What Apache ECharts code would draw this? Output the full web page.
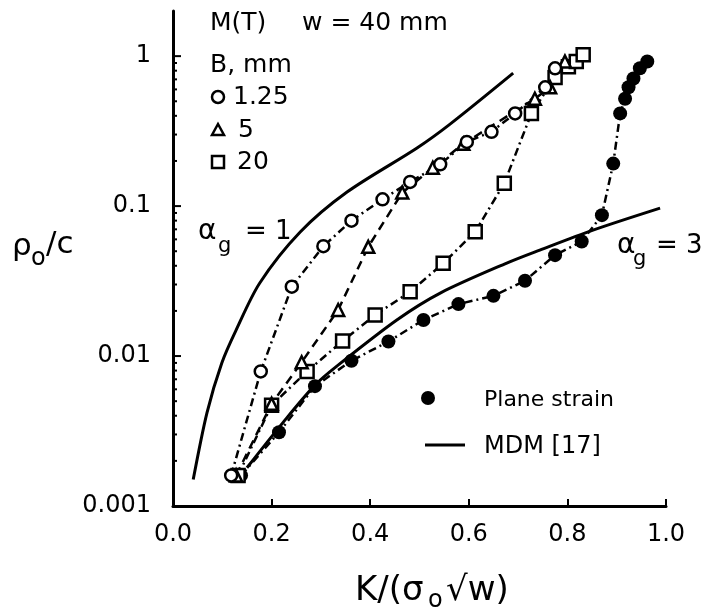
<!DOCTYPE html>
<html>
<head>
<meta charset="utf-8">
<script src="https://cdn.jsdelivr.net/npm/echarts@6/dist/echarts.min.js"></script>
<style>
  html, body { margin: 0; padding: 0; background: #fff; }
  #chart { width: 710px; height: 610px; }
</style>
</head>
<body>
<div id="chart"></div>
<script>
// tick values
const xTicks = [0, 0.2, 0.4, 0.6, 0.8, 1.0]
const yDecades = [0.001, 0.01, 0.1, 1]

// M(T) specimens, w = 40 mm  [K/(sigma0 sqrt w), rho0/c]
const b125 = [[0.118, 0.0016], [0.178, 0.0079], [0.241, 0.029], [0.305, 0.054], [0.362, 0.080],
  [0.425, 0.111], [0.481, 0.145], [0.542, 0.19], [0.596, 0.268], [0.646, 0.313], [0.694, 0.415],
  [0.755, 0.62], [0.775, 0.83]]
const b5 = [[0.128, 0.0016], [0.200, 0.0048], [0.261, 0.0091], [0.335, 0.0203], [0.396, 0.0535],
  [0.465, 0.123], [0.527, 0.18], [0.589, 0.26], [0.734, 0.52], [0.765, 0.62], [0.795, 0.92]]
const b20 = [[0.132, 0.0016], [0.200, 0.0047], [0.272, 0.0079], [0.344, 0.0126], [0.410, 0.0188],
  [0.481, 0.0268], [0.548, 0.0415], [0.613, 0.0675], [0.672, 0.142], [0.727, 0.415], [0.775, 0.72],
  [0.802, 0.85], [0.818, 0.92], [0.832, 1.02]]
const planeStrain = [[0.138, 0.0016], [0.215, 0.0031], [0.288, 0.0063], [0.362, 0.0093], [0.437, 0.0125],
  [0.508, 0.0174], [0.579, 0.0222], [0.650, 0.0252], [0.714, 0.0318], [0.775, 0.0471], [0.829, 0.058],
  [0.870, 0.087], [0.893, 0.192], [0.907, 0.415], [0.917, 0.52], [0.924, 0.62], [0.934, 0.71],
  [0.947, 0.83], [0.962, 0.92]]

// MDM [17] curves, alpha_g = 1 and alpha_g = 3
const mdmG1 = [[0.041, 0.0015], [0.069, 0.0042], [0.099, 0.009], [0.128, 0.0149], [0.176, 0.0307],
  [0.258, 0.0671], [0.353, 0.124], [0.495, 0.244], [0.562, 0.352], [0.69, 0.77]]
const mdmG3 = [[0.150, 0.0018], [0.223, 0.0036], [0.288, 0.0064], [0.333, 0.0086], [0.454, 0.0174],
  [0.542, 0.0263], [0.677, 0.0417], [0.744, 0.0509], [0.852, 0.0692], [0.988, 0.097]]

const FONT = '"DejaVu Sans", sans-serif'
const dashDot = [8, 4, 2, 4]

// y log ticks: majors at decades, minors 2..9 inside each decade
const yTickData = []
yDecades.forEach((d, i) => {
  yTickData.push([0, d, 8])
  if (i < yDecades.length - 1) {
    for (let k = 2; k <= 9; k++) yTickData.push([0, d * k, 4])
  }
})

function txt(x, y, text, size) {
  return {
    type: 'text', x: x, y: y, silent: true,
    style: { text: text, font: size + 'px ' + FONT, fill: '#000', textAlign: 'left', textVerticalAlign: 'middle', align: 'left', verticalAlign: 'middle' }
  }
}

const openStyle = { color: '#fff', borderColor: '#000', borderWidth: 2.5 }

const chart = echarts.init(document.getElementById('chart'))
chart.setOption({
  animation: false,
  backgroundColor: '#fff',
  grid: { left: 173, right: 44, top: 11, bottom: 104, containLabel: false, outerBoundsMode: 'none' },
  xAxis: {
    type: 'value',
    min: xTicks[0],
    max: xTicks[xTicks.length - 1],
    interval: 0.2,
    axisLine: { lineStyle: { color: '#000', width: 3 } },
    axisTick: { inside: true, length: 7, lineStyle: { color: '#000', width: 2 } },
    axisLabel: { color: '#000', fontSize: 24, fontFamily: FONT, margin: 17, formatter: v => v.toFixed(1) },
    splitLine: { show: false }
  },
  yAxis: {
    type: 'log',
    logBase: 10,
    min: 0.001,
    max: 2,
    axisLine: { lineStyle: { color: '#000', width: 3 } },
    axisTick: { show: false },
    axisLabel: {
      color: '#000', fontSize: 24, fontFamily: FONT, margin: 22,
      formatter: v => {
        const e = Math.log10(v)
        if (Math.abs(e - Math.round(e)) > 1e-6) return ''
        const n = Math.round(e)
        return n >= 0 ? String(Math.pow(10, n)) : Math.pow(10, n).toFixed(-n)
      }
    },
    splitLine: { show: false }
  },
  series: [
    {
      type: 'custom', name: 'yticks', silent: true, z: 5,
      data: yTickData,
      renderItem(params, api) {
        const p = api.coord([0, api.value(1)])
        return {
          type: 'line',
          shape: { x1: p[0], y1: p[1], x2: p[0] + api.value(2), y2: p[1] },
          style: { stroke: '#000', lineWidth: 2 }
        }
      }
    },
    {
      name: 'MDM [17]', type: 'line', data: mdmG1, smooth: 0.3, showSymbol: false, z: 2,
      lineStyle: { color: '#000', width: 3 }
    },
    {
      name: 'MDM [17] g3', type: 'line', data: mdmG3, smooth: 0.3, showSymbol: false, z: 2,
      lineStyle: { color: '#000', width: 3 }
    },
    {
      name: 'Plane strain', type: 'line', data: planeStrain, symbol: 'circle', symbolSize: 14, z: 3,
      lineStyle: { color: '#000', width: 2.5, type: dashDot },
      itemStyle: { color: '#000' }
    },
    {
      name: '20', type: 'line', data: b20, symbol: 'rect', symbolSize: 13, z: 4,
      lineStyle: { color: '#000', width: 2.5, type: dashDot },
      itemStyle: openStyle
    },
    {
      name: '5', type: 'line', data: b5, symbol: 'triangle', symbolSize: 12, z: 4,
      lineStyle: { color: '#000', width: 2.5, type: [9, 6] },
      itemStyle: openStyle
    },
    {
      name: '1.25', type: 'line', data: b125, symbol: 'circle', symbolSize: 12, z: 4,
      lineStyle: { color: '#000', width: 2.5, type: dashDot },
      itemStyle: openStyle
    }
  ],
  graphic: [
    // header + legend
    txt(210, 23, 'M(T)', 25),
    txt(302, 23, 'w = 40 mm', 25),
    txt(210, 65, 'B, mm', 25),
    { type: 'circle', silent: true, shape: { cx: 218, cy: 97, r: 6 }, style: { fill: '#fff', stroke: '#000', lineWidth: 2.5 } },
    txt(233, 97, '1.25', 25),
    { type: 'polygon', silent: true, shape: { points: [[218, 124], [224, 135], [212, 135]] }, style: { fill: '#fff', stroke: '#000', lineWidth: 2.5 } },
    txt(238, 130, '5', 25),
    { type: 'rect', silent: true, shape: { x: 212, y: 156, width: 12, height: 12 }, style: { fill: '#fff', stroke: '#000', lineWidth: 2.5 } },
    txt(237, 162, '20', 25),
    { type: 'circle', silent: true, shape: { cx: 428, cy: 398, r: 7 }, style: { fill: '#000' } },
    txt(484, 400, 'Plane strain', 22),
    { type: 'line', silent: true, shape: { x1: 425, y1: 445, x2: 465, y2: 445 }, style: { stroke: '#000', lineWidth: 3 } },
    txt(484, 447, 'MDM [17]', 24),
    // curve labels
    txt(198, 232, 'α', 28),
    txt(218, 247, 'g', 21),
    txt(245, 232, '= 1', 26),
    txt(617, 246, 'α', 28),
    txt(633, 260, 'g', 21),
    txt(656, 246, '= 3', 26),
    // axis titles
    txt(12, 247, 'ρ', 31),
    txt(31, 259, 'o', 24),
    txt(46, 245, '/c', 31),
    txt(355, 591, 'K/(σ', 34),
    txt(428, 601, 'o', 24),
    txt(446, 591, '√w)', 34)
  ]
})
</script>
</body>
</html>
